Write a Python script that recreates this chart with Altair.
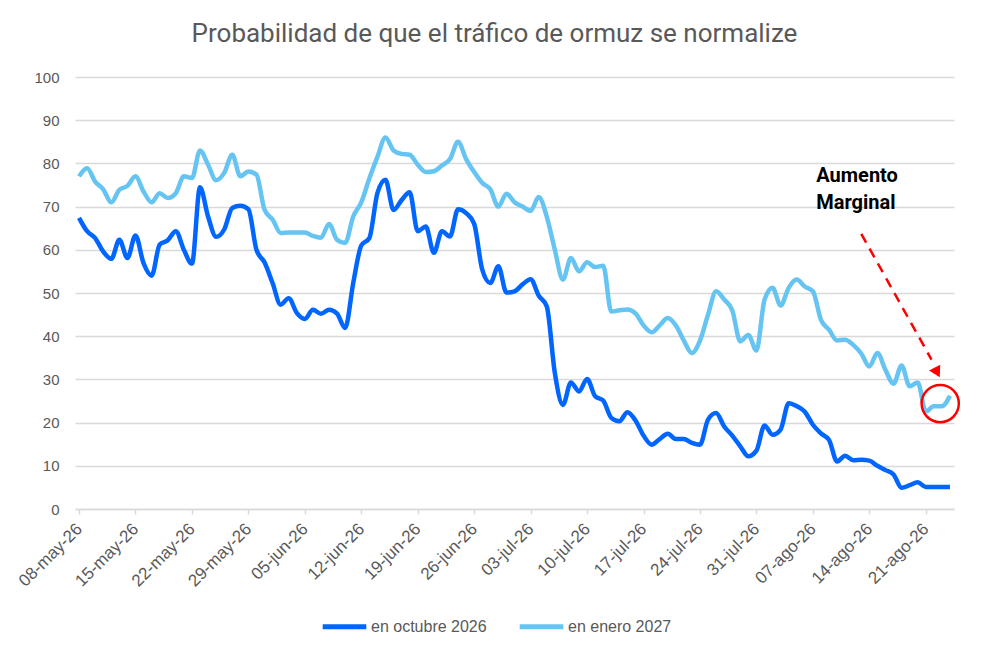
import pandas as pd
import altair as alt

# daily values, 08-may-26 .. 24-ago-26
inicio = "2026-05-08"
octubre = [67.4, 64.3, 62.7, 59.6, 57.9, 62.3, 58.1, 63.3, 56.9, 54.0,
           61.2, 62.2, 64.3, 60.0, 56.8, 74.5, 67.7, 63.0, 64.7, 69.7,
           70.2, 69.4, 60.0, 57.1, 52.3, 47.3, 48.8, 45.4, 44.0, 46.1,
           45.2, 46.1, 45.2, 41.9, 52.3, 61.0, 62.7, 73.1, 76.2, 69.2,
           71.5, 73.3, 64.3, 65.4, 59.3, 64.3, 63.1, 69.4, 68.5, 66.0,
           55.4, 52.3, 56.2, 50.1, 50.4, 52.0, 53.2, 49.4, 46.9, 31.5,
           24.1, 29.3, 27.2, 30.1, 26.1, 25.1, 21.1, 20.3, 22.4, 20.5,
           17.0, 14.9, 16.2, 17.4, 16.2, 16.2, 15.3, 14.9, 20.7, 22.2,
           19.1, 17.0, 14.5, 12.2, 13.5, 19.3, 17.2, 18.4, 24.5, 23.8,
           22.5, 19.5, 17.5, 16.0, 11.0, 12.3, 11.3, 11.4, 11.2, 10.0,
           9.0, 8.0, 4.9, 5.5, 6.2, 5.1, 5.1, 5.1, 5.1]
enero = [77.0, 78.9, 75.8, 74.0, 71.0, 73.9, 74.8, 77.0, 73.5, 71.0,
         73.1, 72.0, 73.1, 77.0, 76.6, 83.0, 79.7, 76.1, 77.8, 82.0,
         77.0, 78.1, 77.4, 69.3, 67.0, 63.9, 64.0, 64.0, 64.0, 63.2,
         62.8, 66.0, 62.3, 61.6, 67.7, 71.0, 76.5, 81.5, 86.0, 83.0,
         82.2, 82.0, 79.7, 78.0, 78.2, 79.5, 81.0, 85.0, 81.0, 78.0,
         75.5, 74.0, 70.0, 73.0, 71.0, 70.0, 69.0, 72.2, 67.7, 60.0,
         53.1, 58.1, 55.0, 57.1, 56.0, 56.3, 45.7, 46.0, 46.2, 45.3,
         42.5, 40.9, 42.5, 44.2, 42.5, 39.0, 36.1, 39.0, 45.0, 50.4,
         48.5, 46.0, 38.8, 40.3, 36.7, 48.4, 51.2, 47.1, 51.2, 53.1,
         51.5, 50.4, 43.8, 41.5, 39.0, 39.2, 38.0, 36.0, 33.0, 36.1,
         32.2, 29.0, 33.2, 28.4, 29.3, 22.6, 23.8, 23.8, 26.2]
series = ["en octubre 2026", "en enero 2027"]
colores = ["#0066FF", "#66C4F2"]
meses = ["ene", "feb", "mar", "abr", "may", "jun",
         "jul", "ago", "sep", "oct", "nov", "dic"]
ticks_y = list(range(0, 101, 10))
ticks_x = pd.date_range("2026-05-08", "2026-08-21", freq="7D")

fechas = pd.date_range(inicio, periods=len(octubre), freq="D")
df = pd.concat([
    pd.DataFrame({"fecha": fechas, "serie": series[0], "valor": octubre}),
    pd.DataFrame({"fecha": fechas, "serie": series[1], "valor": enero}),
])

gris = "#595959"
lista_meses = "[" + ",".join("'%s'" % m for m in meses) + "]"
etiqueta = ("timeFormat(datum.value, '%d') + '-' + " + lista_meses +
            "[month(datum.value)] + '-' + timeFormat(datum.value, '%y')")

x_scale = alt.Scale(domain=[alt.DateTime(year=2026, month=5, date=7, hours=12),
                            alt.DateTime(year=2026, month=8, date=24, hours=12)])
y_scale = alt.Scale(domain=[0, 100])

lineas = alt.Chart(df).mark_line(strokeWidth=4.5, interpolate="monotone").encode(
    alt.X("fecha:T", title=None, scale=x_scale,
          axis=alt.Axis(values=[alt.DateTime(year=d.year, month=d.month, date=d.day) for d in ticks_x],
                        labelExpr=etiqueta, labelAngle=-45, labelAlign="right",
                        labelBaseline="middle", labelPadding=12, labelFontSize=17,
                        labelOverlap=False, labelColor=gris, grid=False,
                        domainColor="#D9D9D9", domainWidth=1.5, tickColor="#D9D9D9",
                        tickWidth=1.5, tickSize=5, labelFont="Liberation Sans")),
    alt.Y("valor:Q", title=None, scale=y_scale,
          axis=alt.Axis(values=ticks_y, labelFontSize=15, labelColor=gris,
                        labelPadding=16, domain=False, ticks=False,
                        gridColor="#D9D9D9", gridWidth=1.5, labelFont="Liberation Sans")),
    alt.Color("serie:N", sort=series,
              scale=alt.Scale(domain=series, range=colores),
              legend=alt.Legend(title=None, orient="none", direction="horizontal",
                                legendX=245, legendY=525, symbolType="stroke",
                                symbolStrokeWidth=5, symbolSize=1900,
                                labelFontSize=16, labelColor=gris,
                                labelFont="Liberation Sans", columnPadding=22,
                                labelOffset=2)),
)

nota = pd.DataFrame({"fecha": [pd.Timestamp("2026-08-07T10:00")], "valor": [77.0]})
texto = alt.Chart(nota).mark_text(
    text=["Aumento", "Marginal"], align="left", baseline="middle",
    fontSize=20, fontWeight="bold", font="Roboto", color="black", lineHeight=27
).encode(x="fecha:T", y="valor:Q")

flecha = pd.DataFrame({"fecha": [pd.Timestamp("2026-08-13T00:00")], "valor": [63.7],
                       "fecha2": [pd.Timestamp("2026-08-21T17:00")], "valor2": [34.6]})
linea_flecha = alt.Chart(flecha).mark_rule(
    color="#FF0000", strokeWidth=2.5, strokeDash=[10, 7]
).encode(x="fecha:T", y="valor:Q", x2="fecha2:T", y2="valor2:Q")

punta = pd.DataFrame({"fecha": [pd.Timestamp("2026-08-22T10:00")], "valor": [31.6]})
punta_flecha = alt.Chart(punta).mark_point(
    shape="triangle-up", angle=152, size=160, filled=True, color="#FF0000", opacity=1
).encode(x="fecha:T", y="valor:Q")

circulo = pd.DataFrame({"fecha": [pd.Timestamp("2026-08-22T19:00")], "valor": [24.4]})
marca = alt.Chart(circulo).mark_point(
    shape="circle", size=1385, filled=False, color="#FF0000", strokeWidth=2.5, opacity=1
).encode(x="fecha:T", y="valor:Q")

chart = (lineas + texto + linea_flecha + punta_flecha + marca).properties(
    width=879, height=432,
    autosize=alt.AutoSizeParams(type="none"),
    padding={"left": 67, "top": 69, "right": 28, "bottom": 140},
    title=alt.TitleParams("Probabilidad de que el tráfico de ormuz se normalize",
                          fontSize=26, font="Roboto", fontWeight="normal",
                          color=gris, anchor="middle", offset=23, dx=-20),
).configure_view(stroke=None)

chart.save("out.html", embed_options={"renderer": "svg", "actions": False})
